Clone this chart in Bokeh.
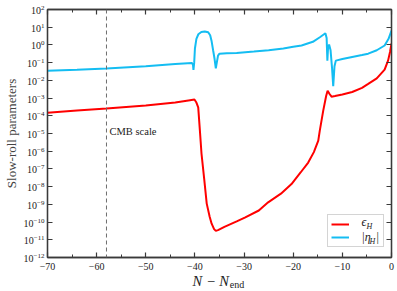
import numpy as np
from bokeh.plotting import figure
from bokeh.models import (Span, Label, Legend, LegendItem, LinearAxis, LogAxis,
                          FixedTicker, Range1d)
from bokeh.embed import file_html
from bokeh.resources import INLINE

# ---------------- data ----------------
n_eps = [-70, -64, -58, -50, -44, -41, -40.1, -39.7, -39.33, -39.0, -38.66, -38.1,
         -37.6, -37.0, -36.6, -36.1, -35.75, -35.3, -34, -31.5, -29.85, -27, -25.1,
         -22.5, -20.35, -18.5, -16.95, -15.8, -14.9, -14.6, -13.9, -13.3, -13.0,
         -12.6, -12.2, -11.5, -10, -8, -6, -4.74, -3, -1.4, -0.7, -0.3, 0]
eps_H = [1.5e-4, 2.0e-4, 2.6e-4, 3.8e-4, 5.6e-4, 7.6e-4, 8.3e-4, 5.6e-4, 3.0e-4, 1.6e-5,
         7.2e-7, 2.5e-8, 1.1e-9, 2.0e-10, 8.1e-11, 4.0e-11, 3.2e-11, 3.5e-11, 5.4e-11,
         1.1e-10, 1.8e-10, 4.5e-10, 1.3e-9, 4.0e-9, 1.4e-8, 6.3e-8, 2.3e-7, 8.9e-7,
         4.0e-6, 1.4e-5, 1.9e-4, 1.3e-3, 2.6e-3, 1.7e-3, 1.2e-3, 1.3e-3, 1.6e-3, 2.2e-3,
         3.8e-3, 6.3e-3, 1.3e-2, 4.0e-2, 0.13, 0.4, 1.2]

n_eta = [-70, -64, -58, -50, -44, -40.6, -40.4, -40.3, -40.15, -40.0, -39.7, -39.3,
         -38.7, -38.0, -37.3, -36.9, -36.6, -36.3, -36.0, -35.75, -35.55, -35.3, -35.0,
         -33.5, -31.5, -28, -25, -22, -20, -18.3, -16, -14.5, -13.45, -13.2, -13.05,
         -12.9, -12.7, -12.4, -12.1, -11.86, -11.6, -11.33, -10, -8, -6, -4.74, -3,
         -1.4, -0.6, 0]
eta_H = [0.035, 0.040, 0.047, 0.063, 0.083, 0.095, 0.076, 0.039, 0.10, 0.63, 2.2, 4.0,
         5.4, 5.8, 5.2, 3.5, 1.6, 0.5, 0.16, 0.048, 0.10, 0.25, 0.32,
         0.34, 0.35, 0.42, 0.50, 0.63, 0.79, 0.93, 1.5, 2.8, 4.6, 2.5, 0.13,
         0.79, 1.05, 0.5, 0.05, 0.0047, 0.063, 0.13, 0.16, 0.21, 0.27, 0.32, 0.5,
         0.93, 2.2, 6.5]

cmb_N = -58
x_ticks = [-70, -60, -50, -40, -30, -20, -10, 0]
x_tick_labels = ["\u221270", "\u221260", "\u221250", "\u221240", "\u221230",
                 "\u221220", "\u221210", "0"]
x_minor = [-65, -55, -45, -35, -25, -15, -5]
y_ticks = [1e-12, 1e-11, 1e-10, 1e-9, 1e-8, 1e-7, 1e-6, 1e-5, 1e-4, 1e-3,
           1e-2, 1e-1, 1e0, 1e1, 1e2]

RED = "#ff0000"
BLUE = "#14bdf2"
SERIF = "Liberation Serif"
AX = "#3a3a3a"

# frame geometry in page pixels (used only to place annotation text)
FX0, FX1, FY0, FY1 = 46, 390, 9, 257
def xd(px):
    return (px - FX0) / ((FX1 - FX0) / 70.0) - 70
def yd(py):
    return 10 ** (2 - (py - FY0) / ((FY1 - FY0) / 14.0))

p = figure(frame_width=344, frame_height=248, y_axis_type="log",
           x_range=Range1d(-70, 0), y_range=Range1d(1e-12, 1e2),
           output_backend="svg", toolbar_location=None,
           min_border_left=38, min_border_right=7, min_border_top=9,
           min_border_bottom=10)
p.xgrid.visible = False
p.ygrid.visible = False
p.outline_line_color = AX
p.outline_line_width = 1.3
p.background_fill_color = "white"
p.border_fill_color = "white"

def style_x(ax, labels=True):
    ax.ticker = FixedTicker(ticks=x_ticks, minor_ticks=x_minor)
    ax.major_tick_in = 5
    ax.major_tick_out = 0
    ax.minor_tick_in = 3
    ax.minor_tick_out = 0
    ax.axis_line_color = AX
    ax.axis_line_width = 1.3
    ax.major_tick_line_color = AX
    ax.minor_tick_line_color = AX
    ax.major_tick_line_width = 1.2
    ax.minor_tick_line_width = 1
    if labels:
        ax.major_label_overrides = dict(zip(x_ticks, x_tick_labels))
        ax.major_label_text_font = SERIF
        ax.major_label_text_font_size = "10px"
        ax.major_label_text_color = "#222"
        ax.major_label_standoff = 5
    else:
        ax.major_label_text_font_size = "1px"
        ax.major_label_text_color = None
        ax.major_label_standoff = 0

def style_y(ax, labels=True):
    ax.ticker = FixedTicker(ticks=y_ticks, minor_ticks=[])
    ax.major_tick_in = 5
    ax.major_tick_out = 0
    ax.minor_tick_line_color = None
    ax.axis_line_color = AX
    ax.axis_line_width = 1.3
    ax.major_tick_line_color = AX
    ax.major_tick_line_width = 1.2
    if labels:
        ax.major_label_text_font = SERIF
        ax.major_label_text_font_size = "10px"
        ax.major_label_text_color = "#222"
        ax.major_label_standoff = 3
    else:
        ax.major_label_text_font_size = "1px"
        ax.major_label_text_color = None
        ax.major_label_standoff = 0

style_x(p.xaxis[0])
style_y(p.yaxis[0])
p.yaxis[0].axis_label = "Slow-roll parameters"
p.yaxis[0].axis_label_text_font = SERIF
p.yaxis[0].axis_label_text_font_style = "normal"
p.yaxis[0].axis_label_text_font_size = "13px"
p.yaxis[0].axis_label_standoff = 2

# x axis label "N − N" (trailing em/thin space shifts it left of centre)
p.xaxis[0].axis_label = "N \u2212 N\u2003\u2009"
p.xaxis[0].axis_label_text_font = SERIF
p.xaxis[0].axis_label_text_font_style = "italic"
p.xaxis[0].axis_label_text_font_size = "14.5px"
p.xaxis[0].axis_label_text_color = "#222"
p.xaxis[0].axis_label_standoff = 0

# subscript "end": label of a bare axis, pulled up under the last N
sub = LinearAxis(ticker=FixedTicker(ticks=[]), axis_line_color=None,
                 major_tick_line_color=None, minor_tick_line_color=None,
                 major_label_text_font_size="1px", major_label_text_color=None,
                 major_label_standoff=0,
                 axis_label="\u2003\u2003\u2003\u2002end",
                 axis_label_text_font=SERIF, axis_label_text_font_style="normal",
                 axis_label_text_font_size="10px", axis_label_text_color="#222",
                 axis_label_standoff=-13)
p.add_layout(sub, "below")

top = LinearAxis()
style_x(top, labels=False)
p.add_layout(top, "above")
right = LogAxis()
style_y(right, labels=False)
p.add_layout(right, "right")

# CMB line
p.add_layout(Span(location=cmb_N, dimension="height", line_color="#6e6e6e",
                  line_dash="4 3", line_width=1))
p.add_layout(Label(x=xd(108), y=yd(136), text="CMB scale", text_font=SERIF,
                   text_font_size="10.5px", text_color="#222"))

r_eps = p.line(n_eps, eps_H, line_color=RED, line_width=2)
r_eta = p.line(n_eta, eta_H, line_color=BLUE, line_width=2)

legend = Legend(items=[LegendItem(label=" ", renderers=[r_eps]),
                       LegendItem(label=" ", renderers=[r_eta])],
                location=(280, 10), padding=3, spacing=1, glyph_width=18,
                glyph_height=12, label_standoff=6, label_width=25,
                label_height=12, margin=0,
                border_line_color="#aaaaaa", border_line_width=1,
                background_fill_alpha=0.0)
p.add_layout(legend)

lab = dict(text_font=SERIF, text_color="#222")
p.add_layout(Label(x=xd(360), y=yd(228), text="\u03f5", text_font_style="italic",
                   text_font_size="12px", **lab))
p.add_layout(Label(x=xd(365), y=yd(230.5), text="H", text_font_style="italic",
                   text_font_size="8px", **lab))
p.add_layout(Label(x=xd(360), y=yd(243), text="|\u03b7", text_font_style="italic",
                   text_font_size="12px", **lab))
p.add_layout(Label(x=xd(368), y=yd(245.5), text="H", text_font_style="italic",
                   text_font_size="8px", **lab))
p.add_layout(Label(x=xd(375), y=yd(243), text="|", text_font_size="12px", **lab))

open("out.html", "w").write(file_html(p, INLINE))
